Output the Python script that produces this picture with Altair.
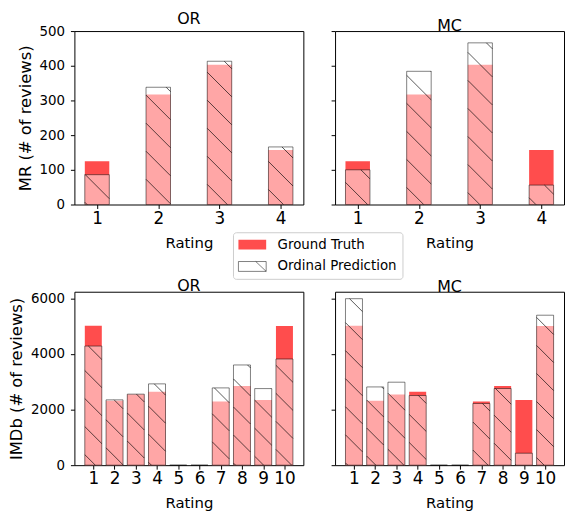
import altair as alt
import pandas as pd
import numpy as np

# ---------------- data ----------------
mr_ratings = [1, 2, 3, 4]
mr_truth = [125, 317, 403, 157]
mr_pred_or = [86, 338, 413, 166]
mr_pred_mc = [100, 384, 466, 56]

imdb_ratings = [1, 2, 3, 4, 5, 6, 7, 8, 9, 10]
imdb_truth = [5020, 2320, 2545, 2640, 0, 0, 2290, 2845, 2345, 5005]
imdb_pred_or = [4285, 2350, 2555, 2925, 0, 0, 2780, 3605, 2755, 3820]
imdb_pred_mc = [5990, 2815, 2985, 2505, 0, 0, 2220, 2757, 430, 5395]

series_names = ["Ground Truth", "Ordinal Prediction"]
mr_yticks = [0, 100, 200, 300, 400, 500]
imdb_yticks = [0, 2000, 4000, 6000]

# ---------------- style / layout ----------------
FONT = "DejaVu Sans"
W, H = 231, 175
COL_GAP, ROW_GAP = 32, 88
HATCH_SPACING = 28.3

fill_scale = alt.Scale(domain=series_names,
                       range=["#ff4d4d", "rgba(255,255,255,0.5)"])
stroke_scale = alt.Scale(domain=series_names,
                         range=["rgba(0,0,0,0)", "rgba(0,0,0,0.5)"])

legend = alt.Legend(
    orient="none", legendX=160, legendY=203,
    symbolType="M-1,-0.71H3V0.71H-1Z M1.5,-0.71L3,0.71",
    symbolSize=196, symbolStrokeWidth=1,
    labelFont=FONT, labelFontSize=13.5, labelColor="black",
    labelOffset=25, rowPadding=7, padding=5,
    strokeColor="#cccccc", cornerRadius=3, fillColor="white",
)


def hatch_segments(ratings, values, half, xdom, ymax, ox, oy):
    ppx = W / (xdom[1] - xdom[0])
    ppy = H / ymax
    base = (oy + H - ox)
    rows = []
    for r, v in zip(ratings, values):
        if v <= 0:
            continue
        ul = (r - half - xdom[0]) * ppx
        ur = (r + half - xdom[0]) * ppx
        vt = v * ppy
        k0 = int(np.floor((ul - base) / HATCH_SPACING)) - 1
        k1 = int(np.ceil((ur + vt - base) / HATCH_SPACING)) + 1
        for k in range(k0, k1 + 1):
            c = base + k * HATCH_SPACING
            ua = max(ul, c - vt)
            ub = min(ur, c)
            if ub - ua <= 0.3:
                continue
            rows.append({
                "hx1": xdom[0] + ua / ppx, "hy1": (c - ua) / ppy,
                "hx2": xdom[0] + ub / ppx, "hy2": (c - ub) / ppy,
            })
    return pd.DataFrame(rows)


def panel(ratings, truth, pred, title, half, xdom, ymax, yticks,
          ytitle, show_ylabels, ox, oy):
    df = pd.DataFrame({
        "rating": ratings * 2,
        "value": truth + pred,
        "series": [series_names[0]] * len(ratings) + [series_names[1]] * len(ratings),
    })
    df["x1"] = df["rating"] - half
    df["x2"] = df["rating"] + half
    df["base"] = 0

    xscale = alt.Scale(domain=xdom, nice=False, zero=False)
    yscale = alt.Scale(domain=[0, ymax], nice=False)
    xaxis = alt.Axis(values=ratings, title="Rating", grid=False, domain=False,
                     labelFontSize=17, titleFontSize=15, titleFontWeight="normal",
                     tickSize=4, labelPadding=2, titlePadding=9,
                     labelFlush=False, labelOverlap=False, format="d")
    if show_ylabels:
        yaxis = alt.Axis(values=yticks, title=ytitle, grid=False, domain=False,
                         labelFontSize=13.5, titleFontSize=16.5, titleFontWeight="normal",
                         tickSize=4, labelPadding=6, titlePadding=6,
                         labelFlush=False, format="d")
    else:
        yaxis = alt.Axis(values=yticks, title=None, grid=False, domain=False,
                         labels=False, tickSize=4)

    base = alt.Chart(df)
    enc = dict(
        x=alt.X("x1:Q", scale=xscale, axis=xaxis),
        x2="x2:Q",
        y=alt.Y("value:Q", scale=yscale, axis=yaxis),
        y2="base:Q",
        fill=alt.Fill("series:N", scale=fill_scale, legend=legend, title=None),
        stroke=alt.Stroke("series:N", scale=stroke_scale, legend=legend, title=None),
    )
    gt = base.transform_filter(alt.datum.series == series_names[0]).mark_rect(strokeWidth=1).encode(**enc)
    pr = base.transform_filter(alt.datum.series == series_names[1]).mark_rect(strokeWidth=1).encode(**enc)
    hdf = hatch_segments(ratings, pred, half, xdom, ymax, ox, oy)
    hatch = alt.Chart(hdf).mark_rule(color="rgba(0,0,0,0.65)", strokeWidth=1).encode(
        x=alt.X("hx1:Q", scale=xscale, axis=xaxis),
        x2="hx2:Q",
        y=alt.Y("hy1:Q", scale=yscale, axis=yaxis),
        y2="hy2:Q",
    )
    return alt.layer(gt, pr, hatch).properties(
        width=W, height=H,
        title=alt.Title(title, fontSize=16, fontWeight="normal", font=FONT,
                        anchor="middle", frame="group", offset=-3, color="black"),
    )


mr_xdom = [0.63, 4.37]
imdb_xdom = [0.11, 10.89]

tl = panel(mr_ratings, mr_truth, mr_pred_or, "OR", 0.2, mr_xdom, 500, mr_yticks,
           "MR (# of reviews)", True, 78, 29)
tr = panel(mr_ratings, mr_truth, mr_pred_mc, "MC", 0.2, mr_xdom, 500, mr_yticks,
           None, False, 341, 29)
bl = panel(imdb_ratings, imdb_truth, imdb_pred_or, "OR", 0.4, imdb_xdom, 6240, imdb_yticks,
           "IMDb (# of reviews)", True, 78, 292)
br = panel(imdb_ratings, imdb_truth, imdb_pred_mc, "MC", 0.4, imdb_xdom, 6240, imdb_yticks,
           None, False, 341, 292)

chart = alt.concat(tl, tr, bl, br, columns=2, bounds="flush",
                   spacing={"row": ROW_GAP, "column": COL_GAP}).properties(
    padding={"left": 0, "top": 0, "right": 0, "bottom": 0}
).configure(font=FONT).configure_view(
    stroke="black", strokeWidth=1
).configure_axis(
    labelFont=FONT, titleFont=FONT, labelColor="black", titleColor="black",
    tickColor="black", tickWidth=1
)

chart.save("out.html", embed_options={"renderer": "svg", "actions": False})
